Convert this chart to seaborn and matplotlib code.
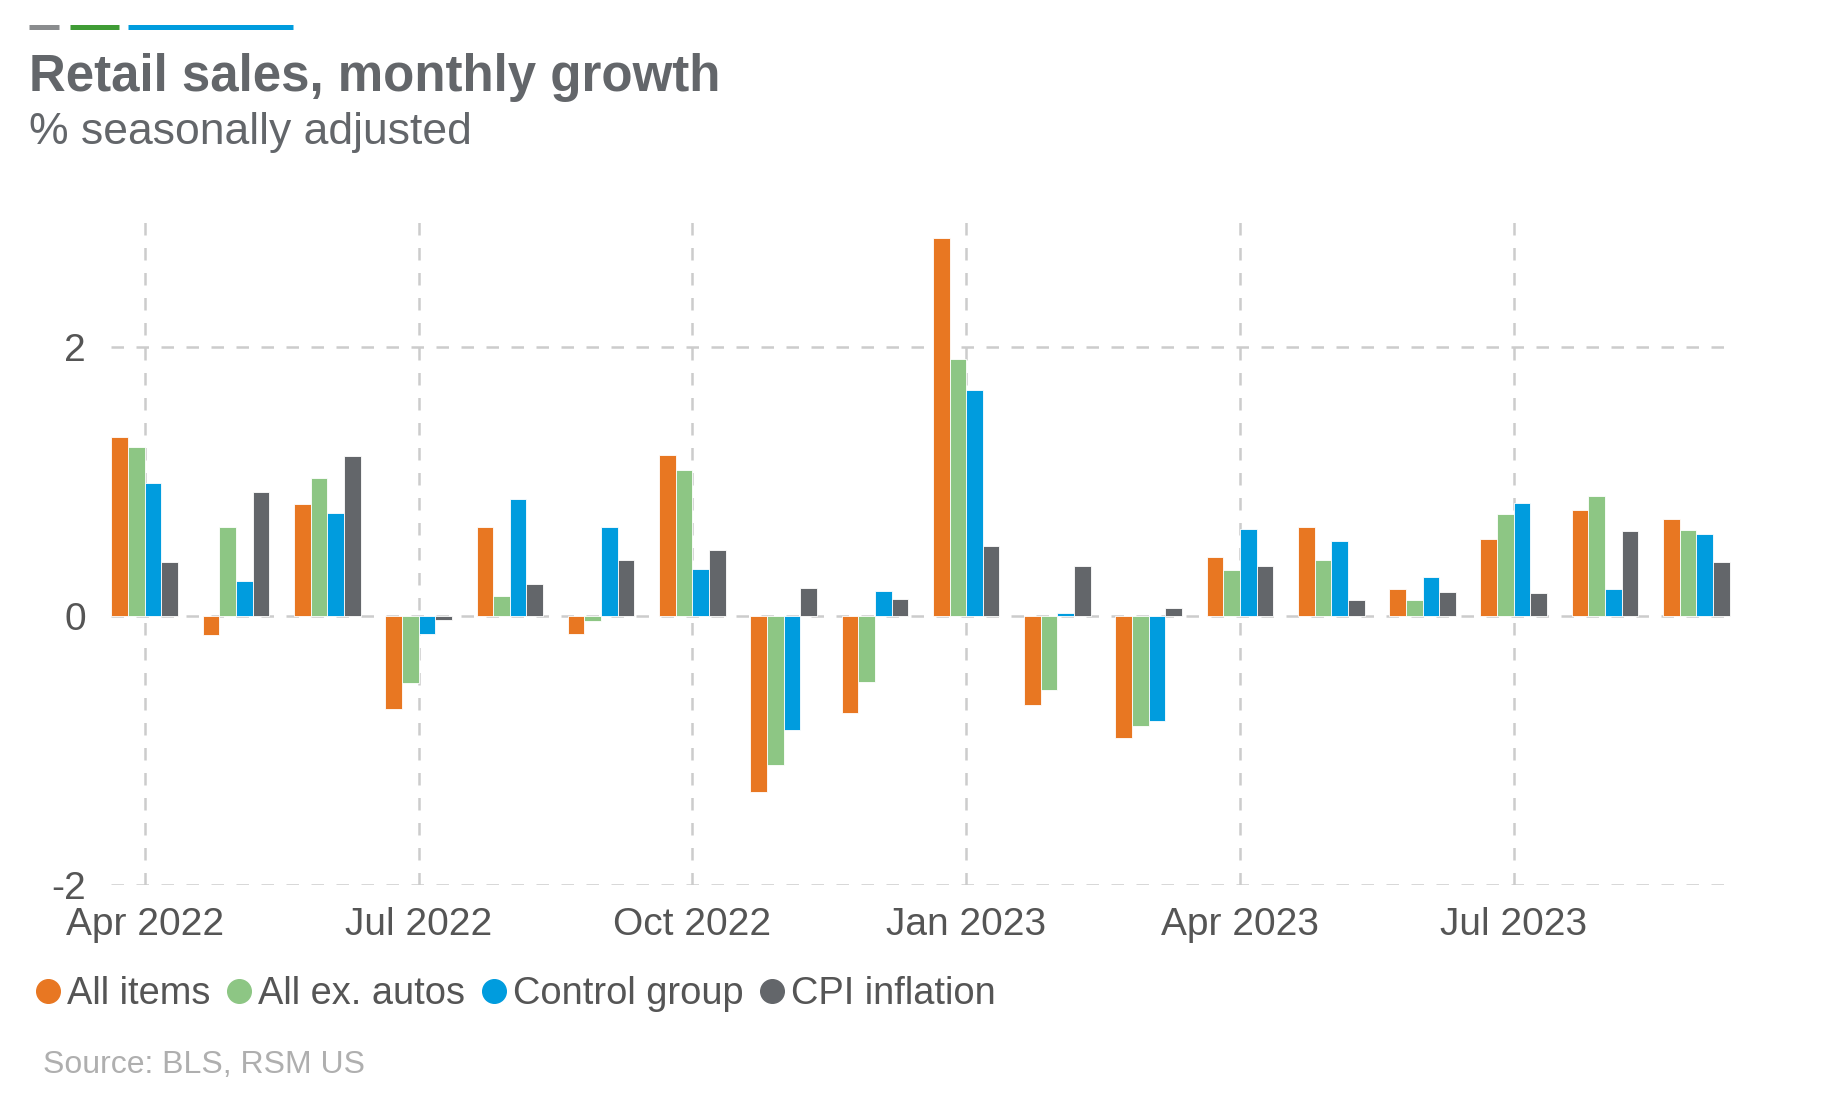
import pandas as pd
import matplotlib.pyplot as plt
from matplotlib.lines import Line2D
import seaborn as sns

# monthly % change, Apr 2022 .. Sep 2023
months = ['Apr 2022', 'May 2022', 'Jun 2022', 'Jul 2022', 'Aug 2022', 'Sep 2022',
          'Oct 2022', 'Nov 2022', 'Dec 2022', 'Jan 2023', 'Feb 2023', 'Mar 2023',
          'Apr 2023', 'May 2023', 'Jun 2023', 'Jul 2023', 'Aug 2023', 'Sep 2023']
all_items = [1.33, -0.14, 0.83, -0.69, 0.66, -0.13, 1.20, -1.31, -0.72,
             2.81, -0.66, -0.91, 0.44, 0.66, 0.20, 0.57, 0.79, 0.72]
all_ex_autos = [1.26, 0.66, 1.03, -0.50, 0.15, -0.04, 1.09, -1.11, -0.49,
                1.91, -0.55, -0.82, 0.34, 0.42, 0.12, 0.76, 0.89, 0.64]
control_group = [0.99, 0.26, 0.77, -0.13, 0.87, 0.66, 0.35, -0.85, 0.19,
                 1.68, 0.02, -0.78, 0.65, 0.56, 0.29, 0.84, 0.20, 0.61]
cpi_inflation = [0.40, 0.92, 1.19, -0.03, 0.24, 0.42, 0.49, 0.21, 0.13,
                 0.52, 0.37, 0.06, 0.37, 0.12, 0.18, 0.17, 0.63, 0.40]

series_names = ['All items', 'All ex. autos', 'Control group', 'CPI inflation']
tick_pos = [0, 3, 6, 9, 12, 15]
tick_labels = ['Apr 2022', 'Jul 2022', 'Oct 2022', 'Jan 2023', 'Apr 2023', 'Jul 2023']

colors = ['#E87722', '#8DC684', '#009CDE', '#63666A']
text_grey = '#63666A'
grid_grey = '#CCCCCC'

df = pd.DataFrame({
    'month': months * 4,
    'series': sum([[s] * len(months) for s in series_names], []),
    'value': all_items + all_ex_autos + control_group + cpi_inflation,
})

sns.set_style('white')
plt.rcParams['font.family'] = ['Liberation Sans', 'DejaVu Sans']

fig = plt.figure(figsize=(18.25, 11.16), dpi=100)
ax = fig.add_axes([111 / 1825, 1 - 885 / 1116, (1731 - 111) / 1825, (885 - 210) / 1116])

sns.barplot(data=df, x='month', y='value', hue='series', order=months,
            hue_order=series_names, palette=colors, saturation=1, width=0.73,
            edgecolor='white', linewidth=0.6, legend=False, ax=ax)

ax.set_xlim(-0.37, 17.38)
ax.set_ylim(-2, 3.02)
ax.set_yticks([-2, 0, 2])
ax.set_yticklabels(['-2', '0', '2'])
ax.set_xticks(tick_pos)
ax.set_xticklabels(tick_labels)
ax.set_xlabel('')
ax.set_ylabel('')
ax.tick_params(axis='both', length=0, labelsize=28, colors='#555555')
ax.tick_params(axis='y', pad=18)
ax.tick_params(axis='x', pad=16)

ax.set_axisbelow(True)
ax.grid(True, axis='both', color=grid_grey, linewidth=1.8, linestyle=(0, (5, 5)))
for sp in ax.spines.values():
    sp.set_visible(False)

# decorative lines at top
for x0, x1, c in [(29, 59, '#8A8C8E'), (70, 119, '#3F9C35'), (128, 293, '#009CDE')]:
    fig.add_artist(Line2D([x0 / 1825, x1 / 1825], [1 - 27 / 1116] * 2, color=c,
                          linewidth=3.6, solid_capstyle='butt'))

fig.text(29 / 1825, 1 - 91 / 1116, 'Retail sales, monthly growth', fontsize=36.7,
         fontweight='bold', color=text_grey, va='baseline')
fig.text(29 / 1825, 1 - 144 / 1116, '% seasonally adjusted', fontsize=32,
         color=text_grey, va='baseline')

handles = [Line2D([], [], marker='o', linestyle='', markersize=17,
                  markerfacecolor=c, markeredgecolor=c) for c in colors]
fig.legend(handles, series_names, loc='center left',
           bbox_to_anchor=(10 / 1825, 1 - 994 / 1116), ncol=4, frameon=False,
           fontsize=27.4, handletextpad=0.0, columnspacing=0.25, handlelength=1.0,
           borderpad=0, labelcolor='#555555')

fig.text(43 / 1825, 1 - 1065 / 1116, 'Source: BLS, RSM US', fontsize=23,
         color='#AFAFAF', va='center')

fig.savefig('out.png', dpi=100)
